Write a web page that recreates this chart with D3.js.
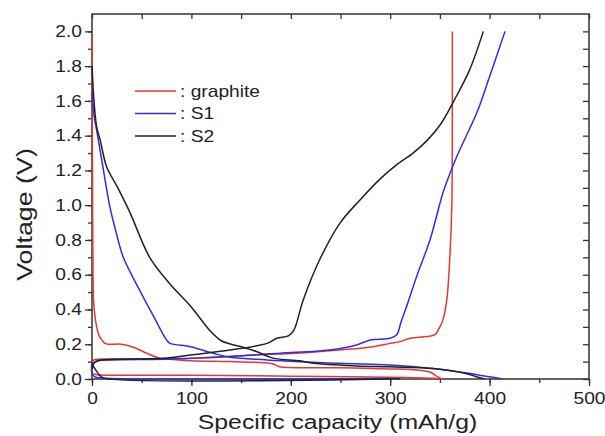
<!DOCTYPE html>
<html>
<head>
<meta charset="utf-8">
<script src="https://cdn.jsdelivr.net/npm/d3@7"></script>
<style>
  body { margin: 0; background: #fff; }
  text { font-family: "Liberation Sans", Arial, sans-serif; fill: #222; }
</style>
</head>
<body>
<div class="chart"></div>
<script>
// Chart size
const w = 605;
const h = 436;
const margin = { top: 14, right: 16, bottom: 57, left: 92 };

// Data: [specific capacity (mAh/g), voltage (V)]
const graphiteDischarge = [[0,1.97],[0.3,1.5],[0.6,1.0],[0.9,0.7],[1.5,0.46],[3,0.36],[4.7,0.3],[7,0.25],[9.8,0.225],[13,0.205],[16.4,0.2],[30,0.2],[43,0.18],[55,0.148],[68,0.12],[99,0.105],[139,0.1],[179,0.09],[185,0.08],[189,0.07],[249,0.065],[300,0.058],[320,0.055],[340,0.04],[348,0.012],[352,0]];
const graphiteCharge = [[0,0.1],[3,0.112],[20,0.115],[70,0.117],[100,0.12],[139,0.13],[170,0.14],[206,0.148],[249,0.167],[283,0.186],[300,0.205],[310,0.215],[320,0.234],[337,0.244],[345,0.255],[350,0.3],[353,0.34],[357,0.46],[360,0.7],[362,1.0],[362.5,1.5],[362.5,2.0]];
const graphiteTail = [[0,0.03],[5,0.025],[100,0.022],[200,0.016],[300,0.01],[350,0.003]];

const s1Discharge = [[0,1.65],[2,1.52],[4.7,1.43],[9.8,1.26],[18,0.99],[24,0.85],[31.5,0.7],[48,0.51],[62,0.36],[75,0.225],[78.5,0.205],[99,0.186],[122,0.148],[139,0.125],[176,0.11],[249,0.09],[300,0.08],[343,0.06],[377,0.035],[390,0.022],[405,0.008],[413,0]];
const s1Charge = [[0,0.075],[2,0.095],[6,0.105],[20,0.11],[80,0.115],[139,0.13],[189,0.148],[239,0.167],[266,0.196],[280,0.225],[300,0.234],[306.5,0.254],[311,0.33],[316.5,0.417],[326.6,0.59],[340,0.8],[350,1.01],[353,1.07],[367,1.28],[387,1.53],[400,1.74],[415.5,2.0]];
const s1Tail = [[0,0.1],[0,0.03],[3,0.012],[10,0.006],[300,0.003]];

const s2Discharge = [[0,1.8],[2,1.6],[4.7,1.45],[8,1.38],[14.8,1.22],[25,1.11],[38,0.96],[58,0.7],[78,0.55],[99,0.42],[120,0.27],[130,0.22],[140,0.2],[152,0.183],[166,0.157],[182,0.12],[209,0.105],[223,0.09],[266,0.075],[300,0.07],[343,0.06],[377,0.03],[392,0.004],[395,0]];
const s2Charge = [[0,0.06],[2,0.09],[6,0.105],[21,0.113],[72,0.119],[99,0.138],[139,0.167],[176,0.205],[186,0.234],[197.5,0.248],[203,0.28],[212.5,0.455],[229,0.686],[249.5,0.897],[269.6,1.03],[289.7,1.15],[306,1.23],[323,1.3],[336.7,1.37],[350,1.46],[365,1.61],[380,1.78],[393.7,2.0]];
const s2Tail = [[0,0.085],[4,0.05],[8,0.02],[12,0.005],[310,0.002]];

// Series names and colours
const seriesNames = ["graphite", "S1", "S2"];
const seriesColors = ["#e03a32", "#2f2fe0", "#222222"];
const seriesData = [
  [graphiteDischarge, graphiteCharge, graphiteTail],
  [s1Discharge, s1Charge, s1Tail],
  [s2Discharge, s2Charge, s2Tail]
];

// Ticks
const xTicks = [0, 100, 200, 300, 400, 500];
const xMinor = [0, 50, 100, 150, 200, 250, 300, 350, 400, 450, 500];
const yTicks = [0, 0.2, 0.4, 0.6, 0.8, 1.0, 1.2, 1.4, 1.6, 1.8, 2.0];
const yMinor = d3.range(0, 21).map((i) => i / 10);

// svg
const svg = d3
  .select(".chart")
  .append("svg")
  .attr("width", w)
  .attr("height", h);

// Scales
const xScale = d3
  .scaleLinear()
  .domain([0, 500])
  .range([margin.left, w - margin.right]);

const yScale = d3
  .scaleLinear()
  .domain([0, 2.1])
  .range([h - margin.bottom, margin.top]);

const x0 = margin.left;
const x1 = w - margin.right;
const y0 = h - margin.bottom;
const y1 = margin.top;

// stretch text horizontally a bit, like the scanned figure
const sx = 1.2;

// Bottom axis (outward ticks)
svg
  .append("g")
  .attr("transform", `translate(0, ${y0})`)
  .call(d3.axisBottom(xScale).tickValues(xMinor).tickSize(4).tickFormat(""))
  .call((g) => g.select(".domain").remove());
svg
  .append("g")
  .attr("class", "x-axis")
  .attr("transform", `translate(0, ${y0})`)
  .call(d3.axisBottom(xScale).tickValues(xTicks).tickSize(7).tickPadding(7).tickFormat(d3.format("d")))
  .call((g) => g.select(".domain").remove());

// Left axis (outward ticks)
svg
  .append("g")
  .attr("transform", `translate(${x0}, 0)`)
  .call(d3.axisLeft(yScale).tickValues(yMinor).tickSize(4).tickFormat(""))
  .call((g) => g.select(".domain").remove());
svg
  .append("g")
  .attr("class", "y-axis")
  .attr("transform", `translate(${x0}, 0)`)
  .call(d3.axisLeft(yScale).tickValues(yTicks).tickSize(7).tickPadding(4).tickFormat(d3.format(".1f")))
  .call((g) => g.select(".domain").remove());

// Top axis (inward ticks)
svg
  .append("g")
  .attr("transform", `translate(0, ${y1})`)
  .call(d3.axisBottom(xScale).tickValues(xMinor).tickSize(5).tickFormat(""))
  .call((g) => g.select(".domain").remove());

// Right axis (inward ticks)
svg
  .append("g")
  .attr("transform", `translate(${x1}, 0)`)
  .call(d3.axisLeft(yScale).tickValues(yMinor).tickSize(6).tickFormat(""))
  .call((g) => g.select(".domain").remove());

svg.selectAll(".tick line").attr("stroke", "#333").attr("stroke-width", 1.3);

// Tick label styling
svg
  .selectAll(".x-axis .tick text")
  .attr("font-size", 16)
  .attr("fill", "#222")
  .attr("font-family", "Liberation Sans, Arial, sans-serif")
  .attr("transform", `scale(${sx},1)`)
  .attr("x", 0);
svg
  .selectAll(".y-axis .tick text")
  .attr("font-size", 16)
  .attr("fill", "#222")
  .attr("font-family", "Liberation Sans, Arial, sans-serif")
  .attr("x", 0)
  .attr("transform", `translate(-10,0) scale(${sx},1)`);

// Frame
svg
  .append("rect")
  .attr("x", x0)
  .attr("y", y1)
  .attr("width", x1 - x0)
  .attr("height", y0 - y1)
  .attr("fill", "none")
  .attr("stroke", "#333")
  .attr("stroke-width", 1.5);

// Axis titles
svg
  .append("text")
  .text("Specific capacity (mAh/g)")
  .attr("text-anchor", "middle")
  .attr("font-size", 21)
  .attr("transform", `translate(${(x0 + x1) / 2 - 3}, ${h - 7}) scale(1.18,1)`);

svg
  .append("text")
  .text("Voltage (V)")
  .attr("text-anchor", "middle")
  .attr("font-size", 22)
  .attr("transform", `translate(32, ${(y0 + y1) / 2 + 18}) rotate(-90) scale(1.22,1)`);

// Curves
const line = d3
  .line()
  .x((d) => xScale(d[0]))
  .y((d) => yScale(d[1]))
  .curve(d3.curveCatmullRom.alpha(0.5));

seriesData.forEach((curves, i) => {
  curves.forEach((c) => {
    svg
      .append("path")
      .attr("d", line(c))
      .attr("fill", "none")
      .attr("stroke", seriesColors[i])
      .attr("stroke-width", 1.5)
      .attr("stroke-linejoin", "round");
  });
});

// Legend
const legend = svg.append("g").attr("transform", "translate(135, 91)");
seriesNames.forEach((name, i) => {
  const gy = i * 22.5;
  legend
    .append("line")
    .attr("x1", 0)
    .attr("x2", 41)
    .attr("y1", gy)
    .attr("y2", gy)
    .attr("stroke", seriesColors[i])
    .attr("stroke-width", 1.5);
  legend
    .append("text")
    .text(": " + name)
    .attr("font-size", 16)
    .attr("transform", `translate(45, ${gy + 5.5}) scale(${sx},1)`);
});
</script>
</body>
</html>
